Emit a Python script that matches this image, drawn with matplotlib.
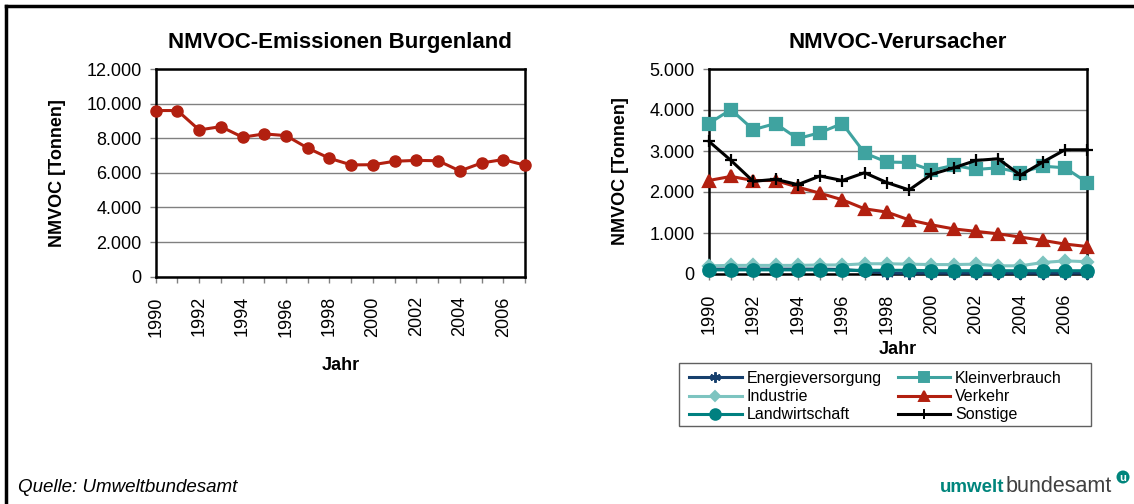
import numpy as np
import matplotlib as mpl
import matplotlib.pyplot as plt
from matplotlib.lines import Line2D
from matplotlib.patches import Circle, Rectangle
from matplotlib.transforms import IdentityTransform
from matplotlib.ticker import FuncFormatter

mpl.rcParams['font.family'] = ['Liberation Sans', 'DejaVu Sans']

years = np.arange(1990, 2008)

# Burgenland total NMVOC (t)
total = [9600, 9600, 8480, 8670, 8060, 8250, 8150, 7430, 6840, 6460,
         6470, 6670, 6720, 6700, 6110, 6570, 6770, 6440]

# sources (t)
energie = [120, 120, 120, 120, 120, 120, 110, 70, 20, 20,
           20, 20, 20, 20, 20, 20, 20, 20]
klein = [3670, 4010, 3520, 3670, 3300, 3450, 3670, 2950, 2730, 2720,
         2530, 2650, 2550, 2590, 2470, 2630, 2590, 2230]
industrie = [200, 210, 210, 210, 210, 220, 220, 250, 250, 240,
             230, 230, 240, 200, 200, 280, 320, 300]
verkehr = [2280, 2380, 2280, 2280, 2120, 1970, 1810, 1590, 1510, 1320,
           1200, 1100, 1040, 980, 900, 820, 730, 670]
landw = [100, 100, 100, 100, 100, 100, 90, 90, 90, 90,
         80, 80, 80, 80, 80, 80, 80, 80]
sonstige = [3240, 2770, 2260, 2310, 2180, 2390, 2280, 2470, 2230, 2050,
            2430, 2590, 2770, 2810, 2410, 2730, 3030, 3030]

xtick_labels = [str(y) if y % 2 == 0 else '' for y in years]

W, H = 1134, 504
fig = plt.figure(figsize=(W / 100, H / 100), dpi=100)

fmt = FuncFormatter(lambda v, p: f'{int(v):,}'.replace(',', '.'))


def style_axes(ax, ymax, ystep, title, xlabelpad):
    ax.set_xlim(1990, 2007)
    ax.set_ylim(0, ymax)
    ax.set_yticks(np.arange(0, ymax + 1, ystep))
    ax.yaxis.set_major_formatter(fmt)
    ax.set_xticks(years)
    ax.set_xticklabels(xtick_labels, rotation=90)
    ax.tick_params(axis='both', direction='out', length=4, width=1, colors='#808080',
                   labelcolor='black', labelsize=13)
    ax.tick_params(axis='x', pad=10)
    ax.tick_params(axis='y', pad=6)
    ax.grid(axis='y', color='#808080', linewidth=1)
    ax.set_axisbelow(True)
    for s in ax.spines.values():
        s.set_linewidth(1.8)
        s.set_color('black')
    ax.set_ylabel('NMVOC [Tonnen]', fontsize=13, fontweight='bold', labelpad=15)
    ax.set_xlabel('Jahr', fontsize=13, fontweight='bold', labelpad=xlabelpad)
    ax.set_title(title, fontsize=16, fontweight='bold', pad=15)


ax1 = fig.add_axes([155.7 / W, 1 - 276.7 / H, (525 - 155.7) / W, (276.7 - 69) / H])
ax1.plot(years, total, color='#B22010', lw=2.2, marker='o', ms=8, clip_on=False, zorder=3)
style_axes(ax1, 12000, 2000, 'NMVOC-Emissionen Burgenland', 15)

ax2 = fig.add_axes([708.7 / W, 1 - 274 / H, (1087.3 - 708.7) / W, (274 - 69) / H])
series = [
    ('Energieversorgung', energie, '#17406D', (6, 2, 0), 9),
    ('Industrie', industrie, '#7DC4C0', 'D', 6),
    ('Landwirtschaft', landw, '#008080', 'o', 9),
    ('Kleinverbrauch', klein, '#3FA3A0', 's', 8),
    ('Verkehr', verkehr, '#B22010', '^', 8),
    ('Sonstige', sonstige, '#000000', '+', 9),
]
handles = []
for name, vals, col, mk, ms in series:
    ax2.plot(years, vals, color=col, lw=2.2, marker=mk, ms=ms, mew=1.6,
             mec=col, clip_on=False, zorder=3)
    handles.append(Line2D([], [], color=col, lw=2.2, marker=mk, ms=ms * 0.85,
                          mew=1.4, mec=col, label=name))
style_axes(ax2, 5000, 1000, 'NMVOC-Verursacher', 5)

leg = fig.legend(handles=handles, ncol=2, loc='upper left',
                 bbox_to_anchor=(689 / W, 1 - 371 / H),
                 frameon=False, fontsize=11.5,
                 handlelength=3.3, handletextpad=0.3, labelspacing=0.2,
                 borderpad=0.0, columnspacing=1.0, borderaxespad=0)
fig.add_artist(Rectangle((679, H - 425.5), 1090.7 - 679, 425.5 - 363,
                         transform=IdentityTransform(), fill=False,
                         ec='#606060', lw=1))

# outer frame (top and left visible)
fig.add_artist(Line2D([6 / W, 6 / W], [0, 1 - 6 / H], color='black', lw=2.5))
fig.add_artist(Line2D([6 / W, 1], [1 - 6 / H, 1 - 6 / H], color='black', lw=2.5))

fig.text(18 / W, 1 - 488 / H, 'Quelle: Umweltbundesamt', fontsize=13.5, style='italic',
         va='center', ha='left')

# logo
t1 = fig.text(940 / W, 1 - 487 / H, 'umwelt', fontsize=13.5, fontweight='bold',
              color='#00857C', va='center', ha='left')
fig.canvas.draw()
bb = t1.get_window_extent()
fig.text(bb.x1 / W + 1 / W, 1 - 487 / H, 'bundesamt', fontsize=15.5, color='#404040',
         va='center', ha='left')
fig.add_artist(Circle((1123, H - 477), 6.5, transform=IdentityTransform(),
                      fc='#00857C', ec='none'))
fig.text(1123 / W, 1 - 478 / H, 'u', fontsize=8, fontweight='bold', color='white',
         va='center', ha='center')

fig.savefig('out.png', dpi=100)
